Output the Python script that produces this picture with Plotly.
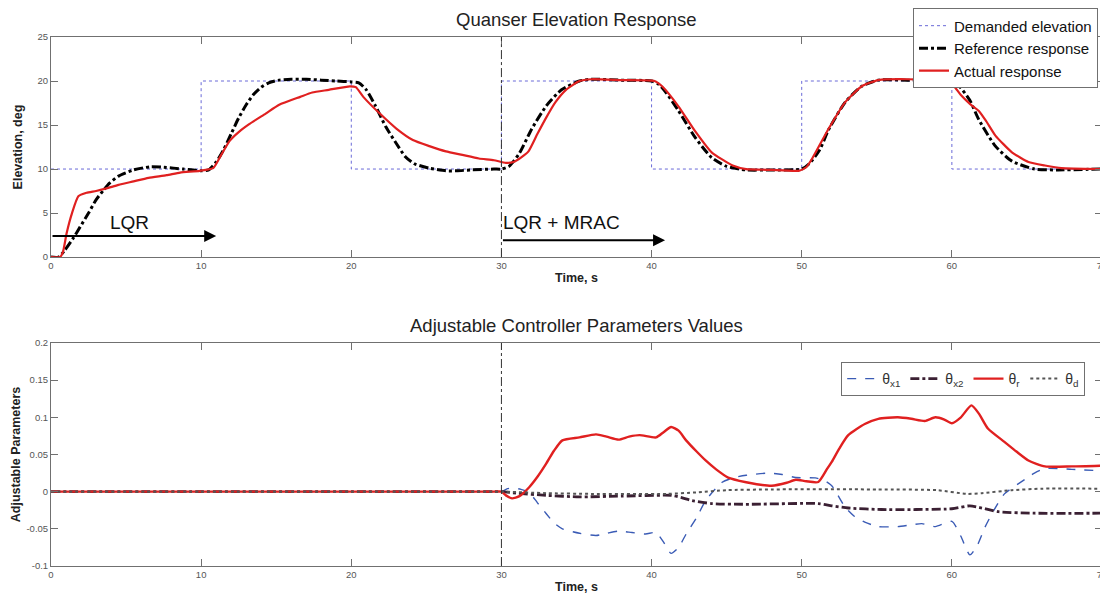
import plotly.graph_objects as go

# ---------------- data ----------------
switch_time = 30

demand_t = [0, 10, 20, 30, 40, 50, 60, 70]
demand_v = [10, 20, 10, 20, 10, 20, 10, 10]

ref_t = [0, 0.5, 0.93, 1.5, 1.93, 2.5, 3.0, 3.5, 3.9, 4.5, 5.5, 6.6, 7.5, 8.8, 10.0, 10.5, 11.0, 11.5, 12.0, 12.5,
         13.0, 13.5, 14.0, 14.5, 15.2, 16.0, 17, 18, 19, 20, 20.5, 21.0, 21.6, 22.3, 23.0, 23.6, 24.2, 25.2, 26.3,
         27, 28, 29.5, 30, 30.5, 31.2, 32, 33, 34, 35.2, 36, 38, 40, 40.5, 41, 41.8, 42.9, 44, 45, 46.3, 48, 50,
         50.5, 51.2, 51.8, 52.9, 54, 55.1, 57, 60, 60.5, 61.2, 61.8, 62.9, 64, 65.5, 67, 70]
ref_v = [0, 0, 0.8, 2.2, 3.4, 5.0, 6.5, 7.6, 8.4, 9.2, 9.9, 10.25, 10.2, 10.0, 9.8, 9.9, 10.8, 12.2, 14.0, 15.8,
         17.3, 18.5, 19.3, 19.8, 20.1, 20.2, 20.2, 20.1, 20.0, 19.9, 19.8, 19.0, 17.2, 14.8, 12.9, 11.4, 10.6, 10.1, 9.8,
         9.8, 9.9, 10.0, 10.0, 10.3, 11.8, 14.5, 17.2, 19.0, 20.0, 20.2, 20.1, 20.0, 19.6, 18.6, 16.6, 13.6, 11.3, 10.3, 9.9, 9.9, 10.0,
         10.6, 12.2, 14.5, 17.6, 19.4, 20.1, 20.1, 20.0, 19.4, 17.8, 15.6, 12.6, 10.9, 10.0, 9.9, 10.0]

act_t = [0, 0.6, 0.8, 1.04, 1.4, 1.82, 2.37, 3.0, 3.7, 4.5, 5.5, 6.5, 7.7, 8.6, 9.9, 10.8, 11.3, 11.9, 12.5, 13.2,
         14.3, 15.2, 16.6, 17.4, 18.5, 19.9, 20.3, 20.8, 21.9, 23.0, 24.1, 25.2, 26.3, 27.4, 28.5, 29.5, 30.3, 30.8,
         31.3, 31.8, 32.4, 33.0, 33.6, 34.3, 35.2, 36, 38, 40.2, 40.7, 41.8, 42.9, 44.0, 45.4, 46.3, 48, 49.8, 50.3,
         50.7, 51.8, 52.9, 54.0, 55.1, 57, 59.6, 60.1, 60.6, 61.2, 61.8, 62.3, 62.9, 64.0, 65.1, 66.2, 67.3, 70]
act_v = [0, 0, 0.6, 2.7, 5.0, 6.9, 7.3, 7.5, 7.8, 8.2, 8.6, 9.0, 9.3, 9.6, 9.8, 10.1, 11.5, 13.2, 14.2, 15.1,
         16.3, 17.3, 18.2, 18.7, 19.0, 19.4, 19.3, 18.2, 16.3, 14.6, 13.3, 12.6, 12.0, 11.6, 11.2, 11.0, 10.7, 10.8,
         11.3, 12.0, 14.0, 15.9, 17.6, 19.0, 20.0, 20.2, 20.1, 20.0, 19.4, 17.1, 14.3, 11.9, 10.4, 10.0, 9.9, 9.8, 10.2,
         11.2, 14.6, 17.6, 19.4, 20.1, 20.2, 20.0, 19.5, 18.4, 17.4, 16.6, 15.4, 13.8, 11.9, 10.8, 10.4, 10.1, 10.0]

thr_t = [0, 10, 20, 29.5, 30, 30.3, 30.7, 31.2, 31.85, 32.4, 32.96, 33.5, 34.06, 35.2, 36.3, 37.0, 37.8, 38.5, 39.2, 40.3, 40.8,
         41.3, 41.8, 42.3, 43.0, 43.6, 44.3, 45.1, 46.3, 47, 48.0, 49.0, 49.6, 50.3, 51.1, 51.7, 52.0, 52.5, 53.1,
         54.2, 55.1, 56.4, 57.3, 58.2, 58.9, 59.5, 60.0, 60.6, 61.3, 61.8, 62.4, 63.5, 64.3, 65.1, 66.2, 68, 70]
thr_v = [0, 0, 0, 0, 0, -0.005, -0.009, -0.006, 0.006, 0.02, 0.037, 0.055, 0.069, 0.073, 0.077, 0.074, 0.070, 0.074, 0.076, 0.073, 0.080,
         0.087, 0.082, 0.069, 0.054, 0.042, 0.030, 0.019, 0.0126, 0.010, 0.008, 0.012, 0.016, 0.014, 0.013, 0.031, 0.040, 0.058, 0.076,
         0.091, 0.098, 0.100, 0.098, 0.095, 0.100, 0.097, 0.092, 0.100, 0.116, 0.105, 0.085, 0.067, 0.054, 0.042, 0.034, 0.034, 0.035]

thx1_t = [0, 10, 20, 29.5, 30, 30.4, 30.8, 31.3, 31.85, 32.4, 33.0, 33.5, 34.06, 35.2, 36.3, 37.0, 37.8, 38.7, 39.6, 40.3, 40.8,
          41.3, 41.8, 42.3, 43.0, 43.6, 44.7, 45.5, 46.3, 47.8, 48.7, 49.6, 50.9, 51.5, 52.0, 52.9, 53.5, 54.2, 55.1,
          56.4, 57.2, 58.0, 58.9, 60.0, 60.6, 61.2, 61.7, 62.2, 62.8, 63.5, 64.9, 65.5, 66.2, 68, 70]
thx1_v = [0, 0, 0, 0, 0, 0.004, 0.005, 0.003, -0.001, -0.015, -0.030, -0.042, -0.050, -0.056, -0.059, -0.056, -0.053, -0.055, -0.057, -0.055, -0.068,
          -0.083, -0.075, -0.057, -0.035, -0.012, 0.0126, 0.019, 0.022, 0.025, 0.023, 0.019, 0.0185, 0.015, 0.008, -0.021, -0.033, -0.041, -0.047,
          -0.047, -0.045, -0.043, -0.047, -0.040, -0.060, -0.085, -0.072, -0.048, -0.025, -0.003, 0.017, 0.025, 0.031, 0.030, 0.028]

thx2_t = [0, 10, 20, 29.5, 30, 31, 33, 35.2, 38, 41.3, 42.0, 42.7, 44, 46.3, 51.1, 52, 53.1, 55.3, 60, 61.2, 62, 63.1, 65.5, 70]
thx2_v = [0, 0, 0, 0, 0, -0.002, -0.005, -0.007, -0.006, -0.005, -0.008, -0.012, -0.016, -0.017, -0.016, -0.019, -0.022, -0.024,
          -0.023, -0.019, -0.022, -0.027, -0.029, -0.029]

thd_t = [0, 10, 20, 29.5, 30, 33, 36, 41, 43, 45, 48, 55, 59, 61, 62, 64, 66, 70]
thd_v = [0, 0, 0, 0, 0, -0.002, -0.003, -0.003, -0.001, 0.002, 0.003, 0.003, 0.002, -0.003, -0.002, 0.002, 0.004, 0.004]

arrow_labels = ["LQR", "LQR + MRAC"]
arrow_start = [0, 30]
arrow_end = [11, 40.9]
arrow_level = [2.4, 1.9]
label_pos = [5.25, 34.0]
label_level = [3.9, 3.9]

# ---------------- figure ----------------
RED = "#e02020"
FONT = "Arial, Liberation Sans"
fig = go.Figure()

fig.add_trace(go.Scatter(x=demand_t, y=demand_v, mode="lines", line=dict(color="#6a6ad8", width=1, dash="dot", shape="hv"),
                         name="Demanded elevation", legend="legend", xaxis="x", yaxis="y"))
fig.add_trace(go.Scatter(x=ref_t, y=ref_v, mode="lines", line=dict(color="black", width=3, dash="dashdot", shape="spline", smoothing=0.6),
                         name="Reference response", legend="legend", xaxis="x", yaxis="y"))
fig.add_trace(go.Scatter(x=act_t, y=act_v, mode="lines", line=dict(color=RED, width=2.2, shape="spline", smoothing=0.5),
                         name="Actual response", legend="legend", xaxis="x", yaxis="y"))

fig.add_trace(go.Scatter(x=thx1_t, y=thx1_v, mode="lines", line=dict(color="#3a5bb5", width=1.4, dash="dash", shape="spline", smoothing=0.6),
                         name="θ<sub>x1</sub>", legend="legend2", xaxis="x2", yaxis="y2"))
fig.add_trace(go.Scatter(x=thx2_t, y=thx2_v, mode="lines", line=dict(color="#3b2033", width=2.8, dash="dashdot", shape="spline", smoothing=0.6),
                         name="θ<sub>x2</sub>", legend="legend2", xaxis="x2", yaxis="y2"))
fig.add_trace(go.Scatter(x=thr_t, y=thr_v, mode="lines", line=dict(color=RED, width=2.4, shape="spline", smoothing=0.6),
                         name="θ<sub>r</sub>", legend="legend2", xaxis="x2", yaxis="y2"))
fig.add_trace(go.Scatter(x=thd_t, y=thd_v, mode="lines", line=dict(color="#555555", width=2, dash="dot", shape="spline", smoothing=0.6),
                         name="θ<sub>d</sub>", legend="legend2", xaxis="x2", yaxis="y2"))

axis_common = dict(showline=True, linecolor="#707070", linewidth=1, mirror="ticks", ticks="inside", ticklen=7,
                   tickcolor="#707070", showgrid=False, zeroline=False, automargin=False, ticklabeloverflow="allow",
                   tickfont=dict(family=FONT, size=9.5, color="#555555"))
title_font = dict(family=FONT, size=12.5, color="#222222")

# the page body adds an 8px offset, so the figure is 8px smaller than the window
fig.update_layout(
    width=1100, height=588,
    margin=dict(l=43, r=6, t=29, b=30, autoexpand=False),
    plot_bgcolor="white", paper_bgcolor="white",
    font=dict(family=FONT),
    xaxis=dict(domain=[0, 1], range=[0, 70], tickvals=list(range(0, 71, 10)), anchor="y",
               title=dict(text="<b>Time, s</b>", font=title_font, standoff=2), **axis_common),
    yaxis=dict(domain=[0.584, 1.0], range=[0, 25], tickvals=[0, 5, 10, 15, 20, 25], anchor="x",
               title=dict(text="<b>Elevation, deg</b>", font=title_font, standoff=12), **axis_common),
    xaxis2=dict(domain=[0, 1], range=[0, 70], tickvals=list(range(0, 71, 10)), anchor="y2",
                title=dict(text="<b>Time, s</b>", font=title_font, standoff=2), **axis_common),
    yaxis2=dict(domain=[0, 0.4216], range=[-0.1, 0.2], tickvals=[-0.1, -0.05, 0, 0.05, 0.1, 0.15, 0.2],
                ticktext=["-0.1", "-0.05", "0", "0.05", "0.1", "0.15", "0.2"], anchor="x2",
                title=dict(text="<b>Adjustable Parameters</b>", font=title_font, standoff=3), **axis_common),
    legend=dict(x=0.9962, xanchor="right", y=1.054, yanchor="top", bgcolor="white", bordercolor="#707070",
                borderwidth=1, font=dict(family=FONT, size=15, color="#111"),
                tracegroupgap=0, itemwidth=30),
    legend2=dict(x=0.984, xanchor="right", y=0.3856, yanchor="top", orientation="h", bgcolor="white",
                 bordercolor="#707070", borderwidth=1, font=dict(family=FONT, size=14, color="#333"),
                 itemwidth=30),
    showlegend=True,
)

# panel titles
fig.add_annotation(text="Quanser Elevation Response", xref="paper", yref="paper", x=0.5, y=1.0, yanchor="bottom",
                   yshift=5, showarrow=False, font=dict(family=FONT, size=18.5, color="#222"))
fig.add_annotation(text="Adjustable Controller Parameters Values", xref="paper", yref="paper", x=0.5, y=0.4216,
                   yanchor="bottom", yshift=5, showarrow=False, font=dict(family=FONT, size=18.5, color="#222"))

# switch lines
for ya in ["y", "y2"]:
    xa = "x" if ya == "y" else "x2"
    fig.add_shape(type="line", xref=xa, yref=f"{ya} domain", x0=switch_time, x1=switch_time, y0=0, y1=1,
                  line=dict(color="#333", width=1, dash="dashdot"))

# controller-phase arrows
for lab, s, e, lv, lp, ll in zip(arrow_labels, arrow_start, arrow_end, arrow_level, label_pos, label_level):
    fig.add_annotation(x=e, y=lv, ax=s, ay=lv, xref="x", yref="y", axref="x", ayref="y", text="", showarrow=True,
                       arrowhead=2, arrowsize=1.2, arrowwidth=2, arrowcolor="black")
    fig.add_annotation(x=lp, y=ll, xref="x", yref="y", text=lab, showarrow=False,
                       font=dict(family=FONT, size=19, color="#111"))

fig.write_html("out.html")
